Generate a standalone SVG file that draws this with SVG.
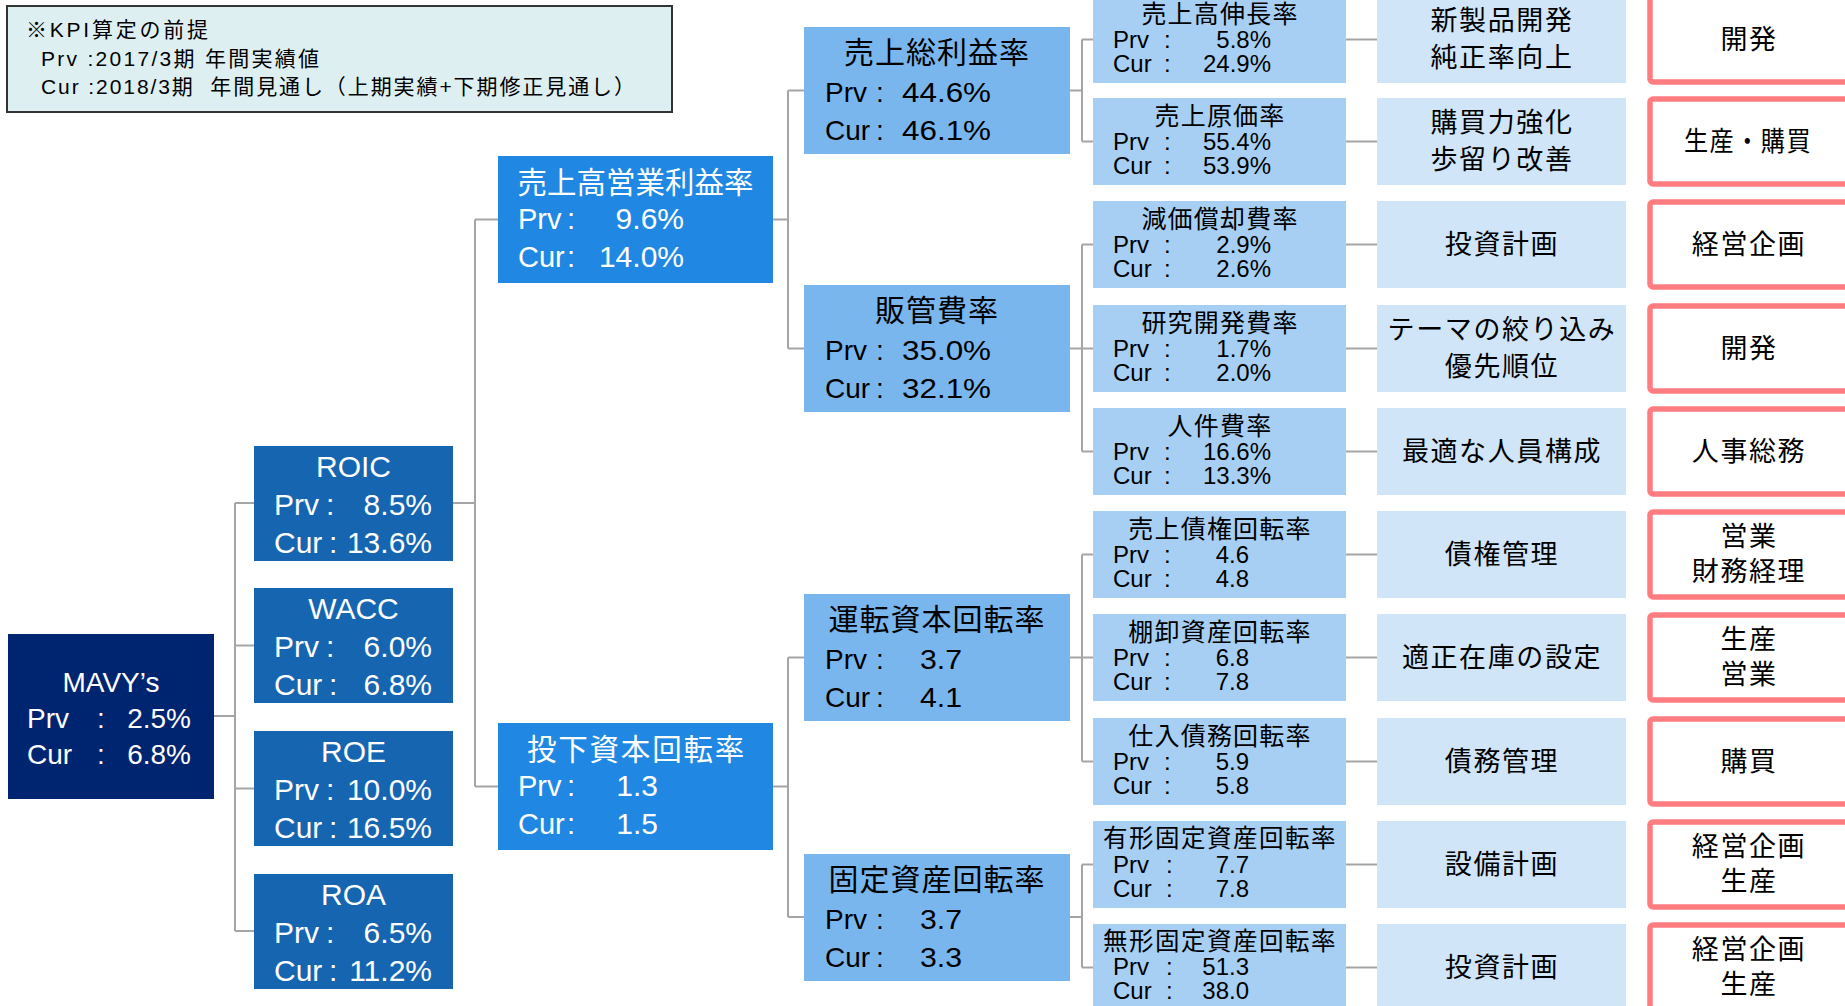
<svg xmlns="http://www.w3.org/2000/svg" width="1845" height="1006" viewBox="0 0 1845 1006">
<style>
text { font-family: "Liberation Sans", "Noto Sans CJK JP", sans-serif; }
.w { fill: #ffffff; }
.k { fill: #000000; }
.mid { text-anchor: middle; }
.end { text-anchor: end; }
.c { dominant-baseline: central; }
.f21 { font-size: 21px; }
.f24 { font-size: 24px; }
.f25 { font-size: 25px; letter-spacing: 1.2px; }
.f27 { font-size: 27px; letter-spacing: 1.6px; }
.f28 { font-size: 28px; }
.f29 { font-size: 29px; }
.f30 { font-size: 30px; }
.t30 { font-size: 30px; letter-spacing: 1px; }
.n0 { fill: #002570; }
.n1 { fill: #1665b1; }
.n2 { fill: #2088e3; }
.n3 { fill: #7ab6ee; }
.n4 { fill: #a7cff4; }
.n5 { fill: #d0e5f8; }
.dept { fill: #ffffff; stroke: #ff7c80; stroke-width: 5.5; }
.ln { fill: none; stroke: #a5a5a5; stroke-width: 2; }
</style>

<g id="note">
<rect x="7" y="6" width="665" height="106" fill="#deeff2" stroke="#333333" stroke-width="2"/>
<text class="k f21" x="26" y="37" textLength="182" lengthAdjust="spacing">※KPI算定の前提</text>
<text class="k f21" x="41" y="66" textLength="278" lengthAdjust="spacing">Prv :2017/3期 年間実績値</text>
<text class="k f21" x="41" y="94" textLength="594" lengthAdjust="spacing" xml:space="preserve">Cur :2018/3期  年間見通し（上期実績+下期修正見通し）</text>
</g>

<g id="connectors">
<path class="ln" d="M214,716 H235 M235,503 V931 M235,503 H254 M235,645.5 H254 M235,788.5 H254 M235,931 H254"/>
<path class="ln" d="M453,503 H475 M475,219.5 V786.5 M475,219.5 H498 M475,786.5 H498"/>
<path class="ln" d="M773,219.5 H788 M788,90.5 V348.5 M788,90.5 H804 M788,348.5 H804"/>
<path class="ln" d="M773,786.5 H788 M788,657.5 V917 M788,657.5 H804 M788,917 H804"/>
<path class="ln" d="M1070,90.5 H1082 M1082,39.5 V141.5 M1082,39.5 H1093 M1082,141.5 H1093"/>
<path class="ln" d="M1070,348.5 H1082 M1082,244.5 V451.5 M1082,244.5 H1093 M1082,348.5 H1093 M1082,451.5 H1093"/>
<path class="ln" d="M1070,657.5 H1082 M1082,554.5 V761.5 M1082,554.5 H1093 M1082,657.5 H1093 M1082,761.5 H1093"/>
<path class="ln" d="M1070,917 H1082 M1082,864.5 V967.5 M1082,864.5 H1093 M1082,967.5 H1093"/>
<path class="ln" d="M1346,39.5 H1377 M1346,141.5 H1377 M1346,244.5 H1377 M1346,348.5 H1377 M1346,451.5 H1377 M1346,554.5 H1377 M1346,657.5 H1377 M1346,761.5 H1377 M1346,864.5 H1377 M1346,967.5 H1377"/>
</g>

<g id="n-mavy">
<rect class="n0" x="8" y="634" width="206" height="165"/>
<text class="w f28 mid" x="111" y="692">MAVY’s</text>
<text class="w f28" x="27" y="728">Prv</text><text class="w f28" x="97" y="728">:</text><text class="w f28 end" x="191" y="728">2.5%</text>
<text class="w f28" x="27" y="764">Cur</text><text class="w f28" x="97" y="764">:</text><text class="w f28 end" x="191" y="764">6.8%</text>
</g>

<g id="n-roic">
<rect class="n1" x="254" y="446" width="199" height="115"/>
<text class="w f30 mid" x="353.5" y="477">ROIC</text>
<text class="w f30" x="274" y="515">Prv</text><text class="w f30" x="326" y="515">:</text><text class="w f30 end" x="432" y="515">8.5%</text>
<text class="w f30" x="274" y="553">Cur</text><text class="w f30" x="329" y="553">:</text><text class="w f30 end" x="432" y="553">13.6%</text>
</g>
<g id="n-wacc">
<rect class="n1" x="254" y="588" width="199" height="115"/>
<text class="w f30 mid" x="353.5" y="619">WACC</text>
<text class="w f30" x="274" y="657">Prv</text><text class="w f30" x="326" y="657">:</text><text class="w f30 end" x="432" y="657">6.0%</text>
<text class="w f30" x="274" y="695">Cur</text><text class="w f30" x="329" y="695">:</text><text class="w f30 end" x="432" y="695">6.8%</text>
</g>
<g id="n-roe">
<rect class="n1" x="254" y="731" width="199" height="115"/>
<text class="w f30 mid" x="353.5" y="762">ROE</text>
<text class="w f30" x="274" y="800">Prv</text><text class="w f30" x="326" y="800">:</text><text class="w f30 end" x="432" y="800">10.0%</text>
<text class="w f30" x="274" y="838">Cur</text><text class="w f30" x="329" y="838">:</text><text class="w f30 end" x="432" y="838">16.5%</text>
</g>
<g id="n-roa">
<rect class="n1" x="254" y="874" width="199" height="115"/>
<text class="w f30 mid" x="353.5" y="905">ROA</text>
<text class="w f30" x="274" y="943">Prv</text><text class="w f30" x="326" y="943">:</text><text class="w f30 end" x="432" y="943">6.5%</text>
<text class="w f30" x="274" y="981">Cur</text><text class="w f30" x="329" y="981">:</text><text class="w f30 end" x="432" y="981">11.2%</text>
</g>

<g id="n-oprate">
<rect class="n2" x="498" y="156" width="275" height="127"/>
<text class="w mid" x="635.5" y="193" style="font-size:29.5px">売上高営業利益率</text>
<text class="w f29" x="518" y="229">Prv</text><text class="w f29" x="567" y="229">:</text><text class="w f30 end" x="684" y="229">9.6%</text>
<text class="w f29" x="518" y="267">Cur</text><text class="w f29" x="567" y="267">:</text><text class="w f30 end" x="684" y="267">14.0%</text>
</g>
<g id="n-capturn">
<rect class="n2" x="498" y="723" width="275" height="127"/>
<text class="w mid" x="636.5" y="760" style="font-size:29.5px;letter-spacing:1.8px">投下資本回転率</text>
<text class="w f29" x="518" y="796">Prv</text><text class="w f29" x="567" y="796">:</text><text class="w f30 end" x="658" y="796">1.3</text>
<text class="w f29" x="518" y="834">Cur</text><text class="w f29" x="567" y="834">:</text><text class="w f30 end" x="658" y="834">1.5</text>
</g>

<g id="n-gross">
<rect class="n3" x="804" y="27" width="266" height="127"/>
<text class="k t30 mid" x="937" y="63">売上総利益率</text>
<text class="k f28" x="825" y="102">Prv</text><text class="k f28" x="876" y="102">:</text><text class="k f28" x="902" y="102" textLength="89" lengthAdjust="spacingAndGlyphs">44.6%</text>
<text class="k f28" x="825" y="140">Cur</text><text class="k f28" x="876" y="140">:</text><text class="k f28" x="902" y="140" textLength="89" lengthAdjust="spacingAndGlyphs">46.1%</text>
</g>
<g id="n-sga">
<rect class="n3" x="804" y="285" width="266" height="127"/>
<text class="k t30 mid" x="937" y="321">販管費率</text>
<text class="k f28" x="825" y="360">Prv</text><text class="k f28" x="876" y="360">:</text><text class="k f28" x="902" y="360" textLength="89" lengthAdjust="spacingAndGlyphs">35.0%</text>
<text class="k f28" x="825" y="398">Cur</text><text class="k f28" x="876" y="398">:</text><text class="k f28" x="902" y="398" textLength="89" lengthAdjust="spacingAndGlyphs">32.1%</text>
</g>
<g id="n-wc">
<rect class="n3" x="804" y="594" width="266" height="127"/>
<text class="k t30 mid" x="937" y="630">運転資本回転率</text>
<text class="k f28" x="825" y="669">Prv</text><text class="k f28" x="876" y="669">:</text><text class="k f28" x="920" y="669" textLength="42" lengthAdjust="spacingAndGlyphs">3.7</text>
<text class="k f28" x="825" y="707">Cur</text><text class="k f28" x="876" y="707">:</text><text class="k f28" x="920" y="707" textLength="42" lengthAdjust="spacingAndGlyphs">4.1</text>
</g>
<g id="n-fixed">
<rect class="n3" x="804" y="854" width="266" height="127"/>
<text class="k t30 mid" x="937" y="890">固定資産回転率</text>
<text class="k f28" x="825" y="929">Prv</text><text class="k f28" x="876" y="929">:</text><text class="k f28" x="920" y="929" textLength="42" lengthAdjust="spacingAndGlyphs">3.7</text>
<text class="k f28" x="825" y="967">Cur</text><text class="k f28" x="876" y="967">:</text><text class="k f28" x="920" y="967" textLength="42" lengthAdjust="spacingAndGlyphs">3.3</text>
</g>

<g id="n-k0">
<rect class="n4" x="1093" y="-4" width="253" height="87"/>
<text class="k f25 mid" x="1220" y="23">売上高伸長率</text>
<text class="k f24" x="1113" y="48">Prv</text><text class="k f24" x="1164" y="48">:</text><text class="k f24 end" x="1271" y="48">5.8%</text>
<text class="k f24" x="1113" y="72">Cur</text><text class="k f24" x="1164" y="72">:</text><text class="k f24 end" x="1271" y="72">24.9%</text>
</g>
<g id="n-k1">
<rect class="n4" x="1093" y="98" width="253" height="87"/>
<text class="k f25 mid" x="1220" y="125">売上原価率</text>
<text class="k f24" x="1113" y="150">Prv</text><text class="k f24" x="1164" y="150">:</text><text class="k f24 end" x="1271" y="150">55.4%</text>
<text class="k f24" x="1113" y="174">Cur</text><text class="k f24" x="1164" y="174">:</text><text class="k f24 end" x="1271" y="174">53.9%</text>
</g>
<g id="n-k2">
<rect class="n4" x="1093" y="201" width="253" height="87"/>
<text class="k f25 mid" x="1220" y="228">減価償却費率</text>
<text class="k f24" x="1113" y="253">Prv</text><text class="k f24" x="1164" y="253">:</text><text class="k f24 end" x="1271" y="253">2.9%</text>
<text class="k f24" x="1113" y="277">Cur</text><text class="k f24" x="1164" y="277">:</text><text class="k f24 end" x="1271" y="277">2.6%</text>
</g>
<g id="n-k3">
<rect class="n4" x="1093" y="305" width="253" height="87"/>
<text class="k f25 mid" x="1220" y="332">研究開発費率</text>
<text class="k f24" x="1113" y="357">Prv</text><text class="k f24" x="1164" y="357">:</text><text class="k f24 end" x="1271" y="357">1.7%</text>
<text class="k f24" x="1113" y="381">Cur</text><text class="k f24" x="1164" y="381">:</text><text class="k f24 end" x="1271" y="381">2.0%</text>
</g>
<g id="n-k4">
<rect class="n4" x="1093" y="408" width="253" height="87"/>
<text class="k f25 mid" x="1220" y="435">人件費率</text>
<text class="k f24" x="1113" y="460">Prv</text><text class="k f24" x="1164" y="460">:</text><text class="k f24 end" x="1271" y="460">16.6%</text>
<text class="k f24" x="1113" y="484">Cur</text><text class="k f24" x="1164" y="484">:</text><text class="k f24 end" x="1271" y="484">13.3%</text>
</g>
<g id="n-k5">
<rect class="n4" x="1093" y="511" width="253" height="87"/>
<text class="k f25 mid" x="1220" y="538">売上債権回転率</text>
<text class="k f24" x="1113" y="563">Prv</text><text class="k f24" x="1164" y="563">:</text><text class="k f24 end" x="1249" y="563">4.6</text>
<text class="k f24" x="1113" y="587">Cur</text><text class="k f24" x="1164" y="587">:</text><text class="k f24 end" x="1249" y="587">4.8</text>
</g>
<g id="n-k6">
<rect class="n4" x="1093" y="614" width="253" height="87"/>
<text class="k f25 mid" x="1220" y="641">棚卸資産回転率</text>
<text class="k f24" x="1113" y="666">Prv</text><text class="k f24" x="1164" y="666">:</text><text class="k f24 end" x="1249" y="666">6.8</text>
<text class="k f24" x="1113" y="690">Cur</text><text class="k f24" x="1164" y="690">:</text><text class="k f24 end" x="1249" y="690">7.8</text>
</g>
<g id="n-k7">
<rect class="n4" x="1093" y="718" width="253" height="87"/>
<text class="k f25 mid" x="1220" y="745">仕入債務回転率</text>
<text class="k f24" x="1113" y="770">Prv</text><text class="k f24" x="1164" y="770">:</text><text class="k f24 end" x="1249" y="770">5.9</text>
<text class="k f24" x="1113" y="794">Cur</text><text class="k f24" x="1164" y="794">:</text><text class="k f24 end" x="1249" y="794">5.8</text>
</g>
<g id="n-k8">
<rect class="n4" x="1093" y="821" width="253" height="87"/>
<text class="k mid" x="1220" y="847" style="font-size:24.5px;letter-spacing:1.5px">有形固定資産回転率</text>
<text class="k f24" x="1113" y="873">Prv</text><text class="k f24" x="1166" y="873">:</text><text class="k f24 end" x="1249" y="873">7.7</text>
<text class="k f24" x="1113" y="897">Cur</text><text class="k f24" x="1166" y="897">:</text><text class="k f24 end" x="1249" y="897">7.8</text>
</g>
<g id="n-k9">
<rect class="n4" x="1093" y="924" width="253" height="87"/>
<text class="k mid" x="1220" y="950" style="font-size:24.5px;letter-spacing:1.5px">無形固定資産回転率</text>
<text class="k f24" x="1113" y="975">Prv</text><text class="k f24" x="1166" y="975">:</text><text class="k f24 end" x="1249" y="975">51.3</text>
<text class="k f24" x="1113" y="999">Cur</text><text class="k f24" x="1166" y="999">:</text><text class="k f24 end" x="1249" y="999">38.0</text>
</g>

<g id="n-a0"><rect class="n5" x="1377" y="-4" width="249" height="87"/>
<text class="k f27 mid c" x="1502" y="21">新製品開発</text><text class="k f27 mid c" x="1502" y="58">純正率向上</text></g>
<g id="n-a1"><rect class="n5" x="1377" y="98" width="249" height="87"/>
<text class="k f27 mid c" x="1502" y="123">購買力強化</text><text class="k f27 mid c" x="1502" y="160">歩留り改善</text></g>
<g id="n-a2"><rect class="n5" x="1377" y="201" width="249" height="87"/>
<text class="k f27 mid c" x="1502" y="245">投資計画</text></g>
<g id="n-a3"><rect class="n5" x="1377" y="305" width="249" height="87"/>
<text class="k f27 mid c" x="1502" y="330">テーマの絞り込み</text><text class="k f27 mid c" x="1502" y="367">優先順位</text></g>
<g id="n-a4"><rect class="n5" x="1377" y="408" width="249" height="87"/>
<text class="k f27 mid c" x="1502" y="452">最適な人員構成</text></g>
<g id="n-a5"><rect class="n5" x="1377" y="511" width="249" height="87"/>
<text class="k f27 mid c" x="1502" y="555">債権管理</text></g>
<g id="n-a6"><rect class="n5" x="1377" y="614" width="249" height="87"/>
<text class="k f27 mid c" x="1502" y="658">適正在庫の設定</text></g>
<g id="n-a7"><rect class="n5" x="1377" y="718" width="249" height="87"/>
<text class="k f27 mid c" x="1502" y="762">債務管理</text></g>
<g id="n-a8"><rect class="n5" x="1377" y="821" width="249" height="87"/>
<text class="k f27 mid c" x="1502" y="865">設備計画</text></g>
<g id="n-a9"><rect class="n5" x="1377" y="924" width="249" height="87"/>
<text class="k f27 mid c" x="1502" y="968">投資計画</text></g>

<g id="n-d0"><rect class="dept" x="1650" y="-3" width="260" height="85" rx="3"/>
<text class="k f27 mid c" x="1749" y="40">開発</text></g>
<g id="n-d1"><rect class="dept" x="1650" y="99" width="260" height="85" rx="3"/>
<text class="k f27 c" x="1684" y="142" textLength="128" lengthAdjust="spacingAndGlyphs">生産・購買</text></g>
<g id="n-d2"><rect class="dept" x="1650" y="202" width="260" height="85" rx="3"/>
<text class="k f27 mid c" x="1749" y="245">経営企画</text></g>
<g id="n-d3"><rect class="dept" x="1650" y="306" width="260" height="85" rx="3"/>
<text class="k f27 mid c" x="1749" y="349">開発</text></g>
<g id="n-d4"><rect class="dept" x="1650" y="409" width="260" height="85" rx="3"/>
<text class="k f27 mid c" x="1749" y="452">人事総務</text></g>
<g id="n-d5"><rect class="dept" x="1650" y="512" width="260" height="85" rx="3"/>
<text class="k f27 mid c" x="1749" y="537">営業</text><text class="k f27 mid c" x="1749" y="572">財務経理</text></g>
<g id="n-d6"><rect class="dept" x="1650" y="615" width="260" height="85" rx="3"/>
<text class="k f27 mid c" x="1749" y="640">生産</text><text class="k f27 mid c" x="1749" y="675">営業</text></g>
<g id="n-d7"><rect class="dept" x="1650" y="719" width="260" height="85" rx="3"/>
<text class="k f27 mid c" x="1749" y="762">購買</text></g>
<g id="n-d8"><rect class="dept" x="1650" y="822" width="260" height="85" rx="3"/>
<text class="k f27 mid c" x="1749" y="847">経営企画</text><text class="k f27 mid c" x="1749" y="882">生産</text></g>
<g id="n-d9"><rect class="dept" x="1650" y="925" width="260" height="85" rx="3"/>
<text class="k f27 mid c" x="1749" y="950">経営企画</text><text class="k f27 mid c" x="1749" y="985">生産</text></g>
</svg>
